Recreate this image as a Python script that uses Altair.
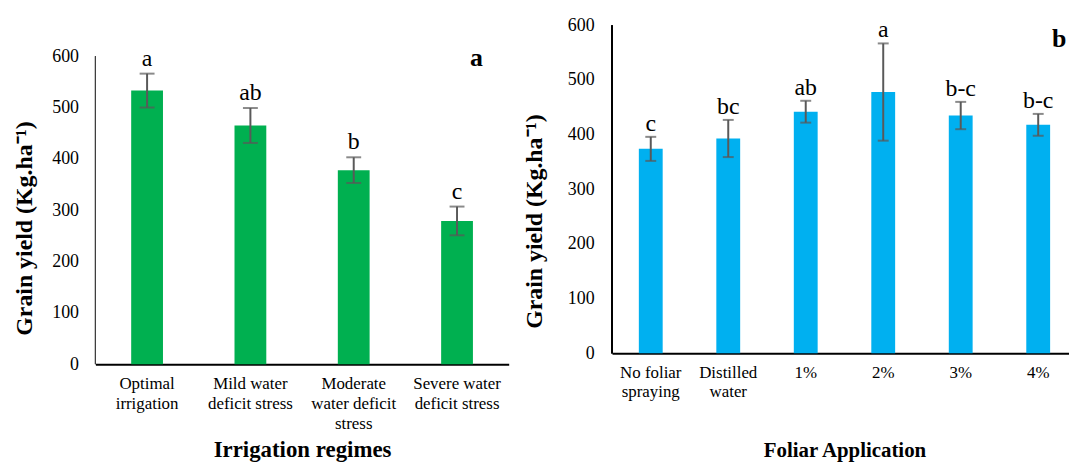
import altair as alt
import pandas as pd

# ---- data ----
y_ticks = [0, 100, 200, 300, 400, 500, 600]

irr_categories = ["Optimal\nirrigation", "Mild water\ndeficit stress",
                  "Moderate\nwater deficit\nstress", "Severe water\ndeficit stress"]
irr_means = [533, 465, 378, 279]
irr_errors = [33, 34, 25, 28]
irr_letters = ["a", "ab", "b", "c"]

fol_categories = ["No foliar\nspraying", "Distilled\nwater", "1%", "2%", "3%", "4%"]
fol_means = [374, 393, 442, 478, 435, 418]
fol_errors = [22, 34, 20, 89, 25, 20]
fol_letters = ["c", "bc", "ab", "a", "b-c", "b-c"]

FONT = "Liberation Serif"
Y_TITLE = "Grain yield (Kg.ha\u207b\u00b9)"


def panel(cats, means, errs, letters, color, bar_size, cap_size, w, h, ymax, xtitle,
          x_title_size, tag, tag_x, tag_y, x_label_pad, x_title_pad, y_label_pad,
          y_title_pad, y_title_y, label_dy, y_domain_w, y_domain_color):
    df = pd.DataFrame({
        "cat": cats,
        "mean": means,
        "lo": [m - e for m, e in zip(means, errs)],
        "hi": [m + e for m, e in zip(means, errs)],
        "letter": letters,
    })
    x_enc = alt.X("cat:N", sort=cats, title=xtitle,
                  axis=alt.Axis(labelAngle=0, labelExpr="split(datum.label, '\\n')",
                                labelLineHeight=20, labelFontSize=17, labelPadding=x_label_pad,
                                labelFont=FONT, titleFont=FONT,
                                ticks=False, tickSize=0, domainColor="black", domainWidth=2,
                                titleFontSize=x_title_size, titleFontWeight="bold", grid=False,
                                titlePadding=x_title_pad, labelColor="black", titleColor="black"))
    base = alt.Chart(df).encode(x=x_enc)
    bars = base.mark_bar(size=bar_size, color=color).encode(
        y=alt.Y("mean:Q", scale=alt.Scale(domain=[0, ymax], nice=False), title=Y_TITLE,
                axis=alt.Axis(values=y_ticks, ticks=False, tickSize=0, labelPadding=y_label_pad,
                              labelFont=FONT, titleFont=FONT, grid=False,
                              labelFontSize=18, domain=False,
                              titleFontSize=24, titleFontWeight="bold", titleY=y_title_y,
                              titlePadding=y_title_pad, labelColor="black", titleColor="black")))
    y_line = base.mark_rule(color=y_domain_color, strokeWidth=y_domain_w).encode(
        x=alt.value(0), y=alt.datum(0), y2=alt.datum(600))
    rules = base.mark_rule(color="#595959", strokeWidth=2).encode(y="lo:Q", y2="hi:Q")
    cap_hi = base.mark_tick(color="#595959", size=cap_size, thickness=2,
                            orient="horizontal").encode(y="hi:Q")
    cap_lo = base.mark_tick(color="#595959", size=cap_size, thickness=2,
                            orient="horizontal").encode(y="lo:Q")
    text = base.mark_text(dy=label_dy, baseline="alphabetic", font=FONT, fontSize=24,
                          color="black").encode(y="hi:Q", text="letter:N")
    tag_layer = alt.Chart(pd.DataFrame({"t": [tag]})).mark_text(
        font=FONT, fontSize=26, fontWeight="bold", baseline="alphabetic", align="left",
        color="black").encode(x=alt.value(tag_x), y=alt.value(tag_y), text="t:N")
    return alt.layer(bars, y_line, rules, cap_hi, cap_lo, text, tag_layer).properties(width=w, height=h)


left = panel(irr_categories, irr_means, irr_errors, irr_letters, "#00B050", 32, 15, 416, 341, 660,
             "Irrigation regimes", 23, "a", 377, 41, 12, 7, 17, 15, 204, -8, 1, "#404040")
right = panel(fol_categories, fol_means, fol_errors, fol_letters, "#00B0F0", 24, 11, 468, 330, 600,
              "Foliar Application", 21, "b", 443, 22, 11, 40, 18, 21, 197, -6, 1.5, "black")

chart = alt.hconcat(left, right, spacing=14).properties(
    padding={"left": 5, "top": 7, "right": -8, "bottom": 0},
    background="white",
).configure_view(stroke=None).configure_axis(
    grid=False, labelFont=FONT, titleFont=FONT
)

chart.save("out.html", embed_options={"renderer": "svg", "actions": False})
